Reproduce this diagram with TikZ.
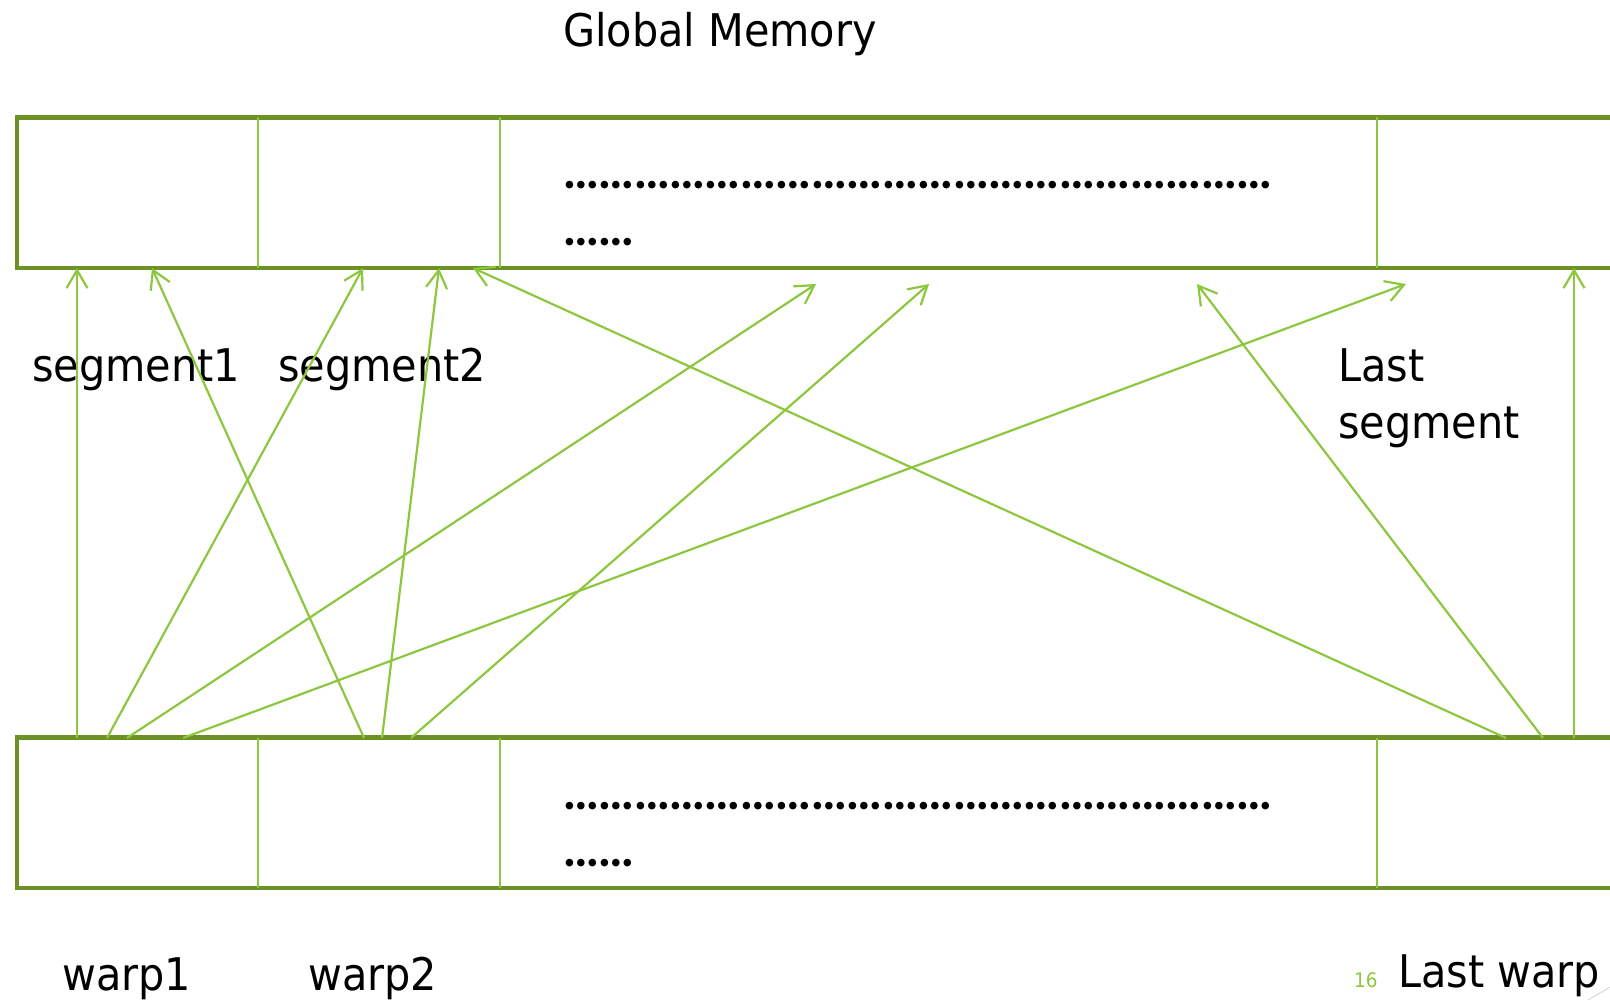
\documentclass[tikz,border=0pt]{standalone}
\usepackage{fontspec}
\setmainfont{DejaVu Sans}[FakeStretch=0.92]
\newfontfamily\dotfont{Poppins}
\usetikzlibrary{arrows.meta}
\definecolor{gmBorder}{HTML}{6E9125}
\definecolor{gmLine}{HTML}{8DC63F}
\definecolor{pageMark}{HTML}{D9D9D9}

\begin{document}
\begin{tikzpicture}[x=1pt,y=-1pt,
  label/.style={anchor=base west,inner sep=0pt,font=\fontsize{45}{56}\selectfont,text=black,align=left},
  dots/.style={anchor=base west,inner sep=0pt,font=\dotfont\fontsize{61}{66}\selectfont},
  band/.style={draw=gmBorder,line width=4.5pt},
  cell/.style={draw=gmLine,line width=2.5pt},
  flow/.style={draw=gmLine,line width=2.2pt,-{Straight Barb[length=18pt,width=21pt]}}]
  \useasboundingbox (0,0) rectangle (1610,1000);
  \clip (0,0) rectangle (1610,1000);

  % memory row and warp row
  \foreach \ya/\yb in {117.5/268,737.7/888}{
    \draw[band] (17,\ya) rectangle (1660,\yb);
    \foreach \dx in {258,500,1377}
      \draw[cell] (\dx,\ya) -- (\dx,\yb);
    \node[dots] at (563,\ya+71.5) {{…………}{…………}{…………}{…………}{…………}};
    \node[dots] at (563,\ya+128.5) {……};
  }

  \node[label] (title) at (563,47) {Global Memory};
  \node[label] (seg1) at (32,382) {segment1};
  \node[label] (seg2) at (278,382) {segment2};
  \node[label] (segL) at (1338,438) {Last\\segment};
  \node[label] (warp1) at (62,990) {warp1};
  \node[label] (warp2) at (308,990) {warp2};
  \node[label] (warpL) at (1398,987) {Last warp};
  \node[anchor=base west,inner sep=0pt,text=gmLine,font=\fontsize{20}{24}\selectfont] (page) at (1354,987) {16};

  % where the threads start
  \foreach \nm/\sx in {wa/77,wb/107,wc/127,wd/183,we/364,wf/382,wg/411,wh/1506,wi/1543,wj/1574}
    \coordinate (\nm) at (\sx,738);
  % where they land
  \coordinate (ma) at (77,268);
  \coordinate (mb) at (363,268);
  \coordinate (mc) at (816,284);
  \coordinate (md) at (1406,284);
  \coordinate (me) at (152,268);
  \coordinate (mf) at (439,268);
  \coordinate (mg) at (929,284);
  \coordinate (mh) at (473,268);
  \coordinate (mi) at (1197,284);
  \coordinate (mj) at (1574,268);
  \foreach \s/\t in {wa/ma,wb/mb,wc/mc,wd/md,we/me,wf/mf,wg/mg,wh/mh,wi/mi,wj/mj}
    \draw[flow] (\s) -- (\t);

  \draw[pageMark,line width=1pt] (1588,1000) -- (1612,986);
\end{tikzpicture}
\end{document}
